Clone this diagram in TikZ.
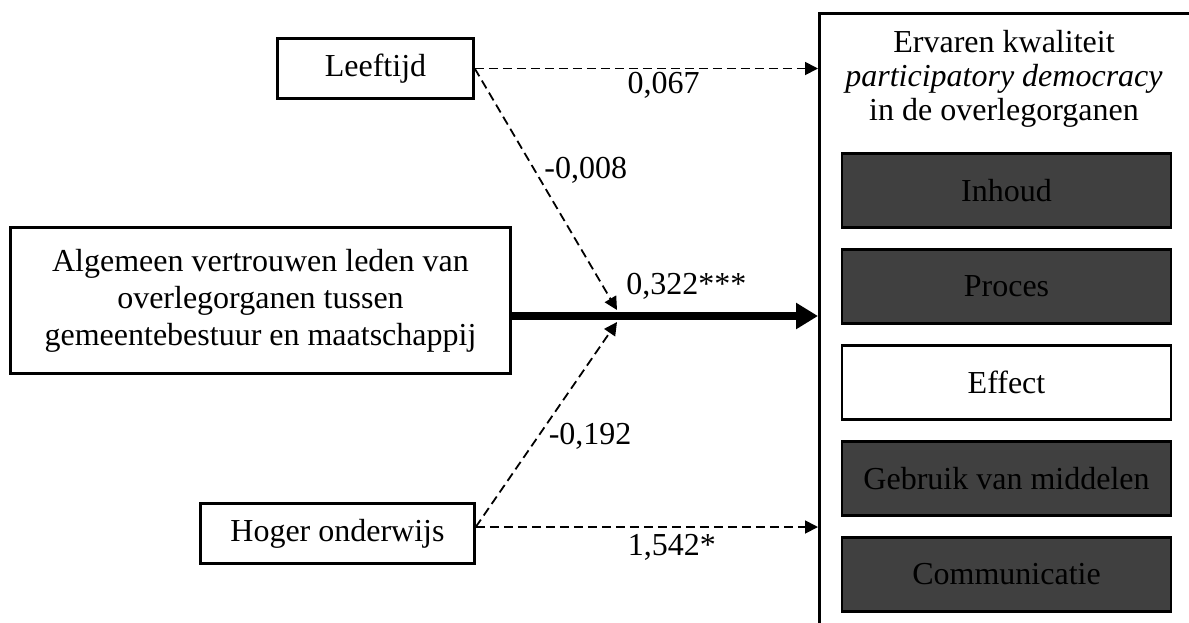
\documentclass[tikz,border=0pt]{standalone}
\usepackage{fontspec}
\setmainfont{Liberation Serif}
\usetikzlibrary{arrows.meta}
\usetikzlibrary{positioning}
\definecolor{grijs}{HTML}{404040}

\begin{document}
\begin{tikzpicture}[x=1pt,y=-1pt,>={Triangle[length=13pt,width=13pt]},
		node distance=19.5pt,font=\fontsize{32}{37}\selectfont]
		\tikzstyle{vak}=[draw,line width=2.5pt,align=center,inner sep=0pt]
		\tikzstyle{dimensie}=[vak,minimum width=329pt,minimum height=74pt,fill=grijs]
		\tikzstyle{stippel}=[->,line width=1.8pt,dash pattern=on 9pt off 5pt]
		\tikzstyle{dik}=[-{Triangle[length=22pt,width=25pt]},line width=8pt]
		\tikzstyle{coef}=[inner sep=0pt]
		
		\useasboundingbox (0,0) rectangle (1189,622);
		
		\node[vak,minimum width=196pt,minimum height=60pt]  (leeftijd) at (375.5,68.5)  {Leeftijd};
		\node[vak,minimum width=500pt,minimum height=146pt] (algemeen) at (260.5,300.5) {Algemeen vertrouwen leden van\\overlegorganen tussen\\gemeentebestuur en maatschappij};
		\node[vak,minimum width=274pt,minimum height=60pt]  (hoger)    at (337.5,533.5) {Hoger onderwijs};
		
		\node[draw,line width=2.5pt,minimum width=420pt,minimum height=660pt,anchor=north west] (kwal) at (818,12) {};
		\node[align=center,font=\fontsize{32}{34}\selectfont] (titel) at (1004,79) {Ervaren kwaliteit\\\textit{participatory democracy}\\in de overlegorganen};
		
		\node[dimensie]         (inhoud)  at (1006.5,190.5) {Inhoud};
		\node[dimensie]         (proces)  [below=of inhoud]  {Proces};
		\node[vak,minimum width=329pt,minimum height=74pt] (effect) [below=of proces] {Effect};
		\node[dimensie]         (middelen) [below=of effect] {Gebruik van middelen};
		\node[dimensie]         (communicatie) [below=of middelen] {Communicatie};
		
		\coordinate (kruis) at (617,316);
		\coordinate (hogeruit) at ([yshift=6.5pt]hoger.east);
		
		\path (leeftijd.east) edge[stippel] node[coef,pos=0.55,below=3pt]   {0,067}  (kwal.west |- leeftijd.east)
		(leeftijd.east) edge[stippel] node[coef,pos=0.42,right=9pt]  {-0,008} ([yshift=6pt]kruis)
		(hogeruit) edge[stippel] node[coef,pos=0.44,right=10pt] {-0,192} ([yshift=-6pt]kruis)
		(hogeruit) edge[stippel] node[coef,pos=0.573,below=6pt] {1,542*} (kwal.west |- hogeruit)
		(algemeen.east |- kruis) edge[dik] node[coef,pos=0.57,above=13pt] {0,322***} (kwal.west |- kruis);
		
\end{tikzpicture}
\end{document}
